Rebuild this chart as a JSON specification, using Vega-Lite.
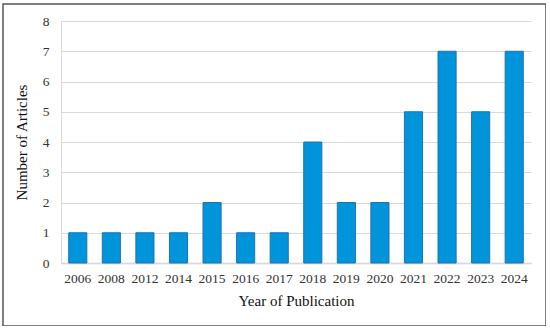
{
  "$schema": "https://vega.github.io/schema/vega-lite/v6.json",
  "width": 543,
  "height": 322,
  "autosize": {"type": "none"},
  "padding": {"left": 3, "top": 4, "right": 0, "bottom": 0},
  "background": "white",
  "config": {
    "view": {"stroke": "#555555", "strokeWidth": 1.5},
    "font": "Liberation Serif"
  },
  "data": {
    "values": [
      {"year": "2006", "count": 1},
      {"year": "2008", "count": 1},
      {"year": "2012", "count": 1},
      {"year": "2014", "count": 1},
      {"year": "2015", "count": 2},
      {"year": "2016", "count": 1},
      {"year": "2017", "count": 1},
      {"year": "2018", "count": 4},
      {"year": "2019", "count": 2},
      {"year": "2020", "count": 2},
      {"year": "2021", "count": 5},
      {"year": "2022", "count": 7},
      {"year": "2023", "count": 5},
      {"year": "2024", "count": 7}
    ]
  },
  "mark": {"type": "bar", "fill": "#0095db", "stroke": "#2070b8", "strokeWidth": 1},
  "encoding": {
    "x": {
      "field": "year",
      "type": "ordinal",
      "sort": null,
      "scale": {"range": [58, 528], "paddingInner": 0.46, "paddingOuter": 0.23},
      "axis": {
        "title": "Year of Publication",
        "orient": "bottom",
        "offset": -63,
        "labelAngle": 0,
        "ticks": false,
        "labelPadding": 8,
        "labelFontSize": 13.5,
        "labelColor": "#333333",
        "domainColor": "#c8c8c8",
        "domainWidth": 1.5,
        "titleFontSize": 15,
        "titleFontWeight": "normal",
        "titleColor": "#111111",
        "titlePadding": 9,
        "grid": false
      }
    },
    "y": {
      "field": "count",
      "type": "quantitative",
      "scale": {"domain": [0, 8], "range": [259, 17], "nice": false},
      "axis": {
        "title": "Number of Articles",
        "orient": "left",
        "offset": -58,
        "values": [0, 1, 2, 3, 4, 5, 6, 7, 8],
        "grid": false,
        "ticks": true,
        "tickSize": -470,
        "tickColor": "#d9d9d9",
        "tickWidth": 1,
        "labelPadding": 482,
        "labelFontSize": 13.5,
        "labelColor": "#333333",
        "domainColor": "#d9d9d9",
        "domainWidth": 1,
        "titleFontSize": 15,
        "titleFontWeight": "normal",
        "titleColor": "#111111",
        "titlePadding": 13
      }
    }
  }
}
